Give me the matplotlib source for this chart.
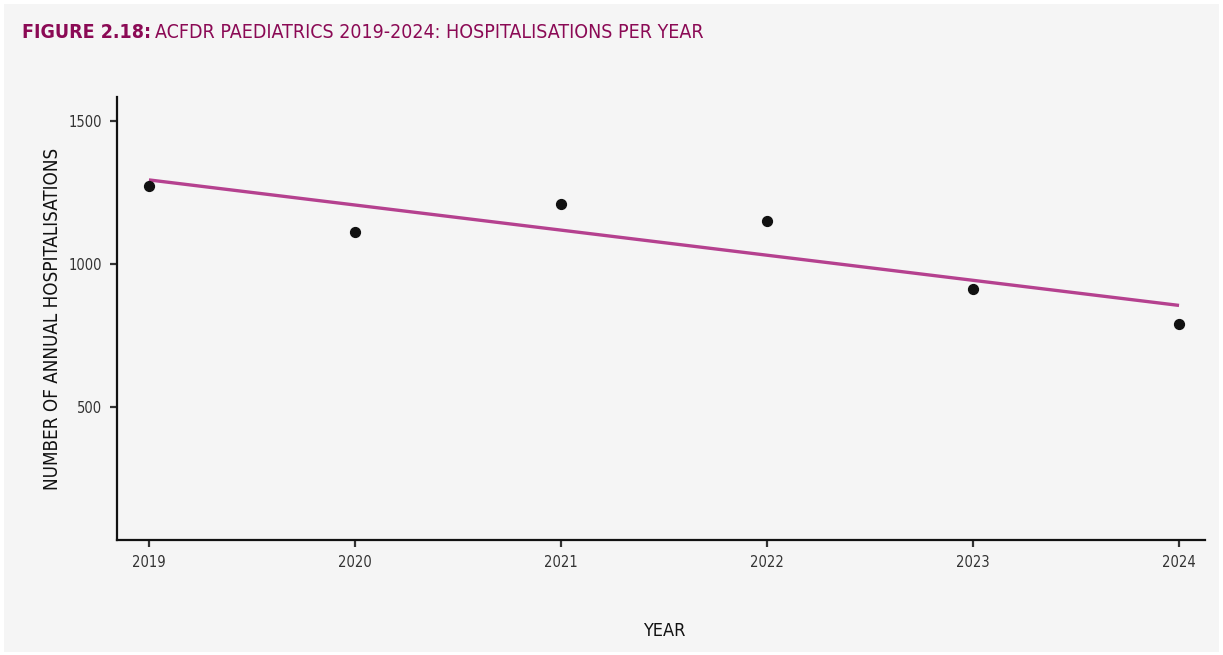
import numpy as np
import matplotlib
matplotlib.use("Agg")
import matplotlib.pyplot as plt
from matplotlib.patches import Rectangle

plt.rcParams['font.family'] = ['DejaVu Sans']
plt.rcParams['font.stretch'] = 'condensed'

# data
years = [2019, 2020, 2021, 2022, 2023, 2024]
hospitalisations = [1273, 1112, 1210, 1150, 913, 790]
y_ticks = [500, 1000, 1500]

bg = '#f5f5f5'
title_col = '#8b0a55'
line_col = '#b5418f'

fig = plt.figure(figsize=(12.23, 6.55), dpi=100)
fig.patch.set_facecolor('white')
fig.add_artist(Rectangle((4 / 1223, 3 / 655), 1215 / 1223, 648 / 655,
                         transform=fig.transFigure, facecolor=bg,
                         edgecolor='none', zorder=0))

ax = fig.add_axes([117 / 1223, 1 - 540 / 655, (1205 - 117) / 1223, (540 - 97) / 655])
ax.set_facecolor('none')

# linear trend (lm fit, like geom_smooth)
slope, intercept = np.polyfit(years, hospitalisations, 1)
fit = [slope * y + intercept for y in years]
ax.plot(years, fit, color=line_col, lw=2.4, solid_capstyle='butt', zorder=2)
ax.scatter(years, hospitalisations, s=50, color='#111111', zorder=3)

ax.set_xlim(2018.845, 2024.126)
ax.set_ylim(35, 1584)
ax.set_xticks(years)
ax.set_xticklabels([str(y) for y in years])
ax.set_yticks(y_ticks)

for side in ['top', 'right']:
    ax.spines[side].set_visible(False)
for side in ['left', 'bottom']:
    ax.spines[side].set_linewidth(1.6)
    ax.spines[side].set_color('#111111')
ax.tick_params(axis='both', length=5, width=1.6, color='#333333',
               labelsize=10.5, labelcolor='#333333', pad=6)

ax.set_ylabel('NUMBER OF ANNUAL HOSPITALISATIONS', fontsize=13.5, color='#111111')
ax.yaxis.set_label_coords(-0.051, 0.5)
fig.text(664 / 1223, 1 - 631 / 655, 'YEAR', fontsize=13, color='#111111',
         ha='center', va='center')

t1 = fig.text(22 / 1223, 1 - 32 / 655, 'FIGURE 2.18:', fontsize=14,
              fontweight='bold', color=title_col, va='center')
fig.canvas.draw()
bb = t1.get_window_extent()
fig.text((bb.x1 + 4) / 1223, 1 - 32 / 655,
         'ACFDR PAEDIATRICS 2019-2024: HOSPITALISATIONS PER YEAR',
         fontsize=14, color=title_col, va='center')

fig.savefig('out.png', dpi=100, facecolor=fig.get_facecolor())
